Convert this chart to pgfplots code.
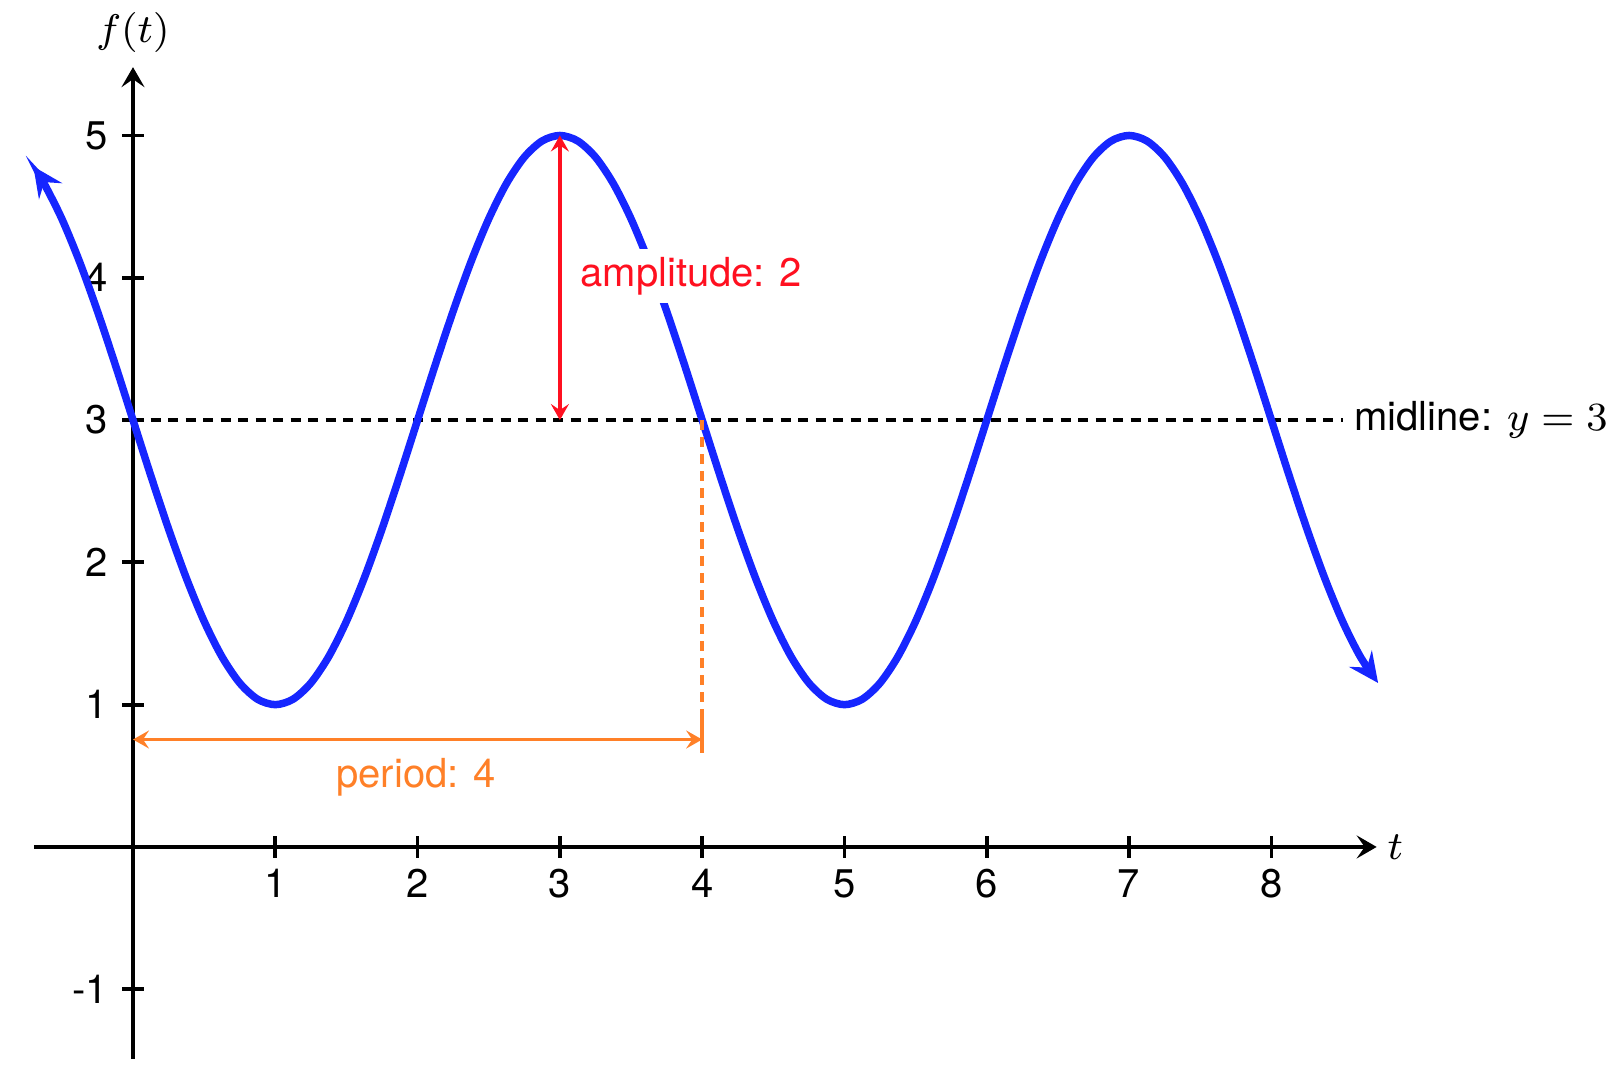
\documentclass[border=0pt]{standalone}
\usepackage{fontspec}
\setmainfont{TeX Gyre Heros}
\usepackage{pgfplots}
\pgfplotsset{compat=1.18}
\usetikzlibrary{arrows.meta}
\definecolor{curveblue}{RGB}{22,38,255}
\definecolor{ampred}{RGB}{255,16,32}
\definecolor{perorange}{RGB}{255,128,40}
\begin{document}
\fontsize{8}{10}\selectfont
\begin{tikzpicture}
\begin{axis}[
  set layers,
  x=1cm, y=1cm,
  anchor=origin, at={(0,0)},
  axis lines=middle,
  xmin=-0.697, xmax=8.74,
  ymin=-1.49, ymax=5.48,
  clip=false,
  xtick={1,2,3,4,5,6,7,8},
  ytick={-1,1,2,3,4,5},
  /pgf/number format/assume math mode=true,
  tick style={black, line width=0.75pt},
  major tick length=4.3pt,
  axis line style={line width=0.8pt, -{Stealth[length=4pt,width=4.6pt,inset=1.6pt]}},
  xlabel={$t$}, ylabel={$f(t)$},
  xlabel style={at={(axis cs:8.74,0)}, anchor=west, inner sep=2pt},
  ylabel style={at={(axis cs:0,5.48)}, anchor=south, rotate=0, inner sep=2.8pt},
  tick label style={font=\fontsize{8}{10}\selectfont},
  xticklabel style={yshift=0.5pt},
  yticklabel style={xshift=0pt},
]
% midline
\addplot[black, line width=0.8pt, dash pattern=on 2pt off 1.5pt] coordinates {(0,3) (8.5,3)}
  node[anchor=west, black, inner sep=2pt, pos=1] {midline: $y=3$};
% curve
\addplot[curveblue, line width=1.5pt, smooth, {Stealth[length=6pt,width=5.6pt,inset=2.2pt]}-{Stealth[length=6pt,width=5.6pt,inset=2.2pt]}] coordinates {
(-0.7,4.7820) (-0.625,4.6629) (-0.5,4.4142) (-0.375,4.1111) (-0.25,3.7654) (-0.125,3.3902)
(0,3) (0.125,2.6098) (0.25,2.2346) (0.375,1.8889) (0.5,1.5858) (0.625,1.3371) (0.75,1.1522) (0.875,1.0384)
(1,1) (1.125,1.0384) (1.25,1.1522) (1.375,1.3371) (1.5,1.5858) (1.625,1.8889) (1.75,2.2346) (1.875,2.6098)
(2,3) (2.125,3.3902) (2.25,3.7654) (2.375,4.1111) (2.5,4.4142) (2.625,4.6629) (2.75,4.8478) (2.875,4.9616)
(3,5) (3.125,4.9616) (3.25,4.8478) (3.375,4.6629) (3.5,4.4142) (3.625,4.1111) (3.75,3.7654) (3.875,3.3902)
(4,3) (4.125,2.6098) (4.25,2.2346) (4.375,1.8889) (4.5,1.5858) (4.625,1.3371) (4.75,1.1522) (4.875,1.0384)
(5,1) (5.125,1.0384) (5.25,1.1522) (5.375,1.3371) (5.5,1.5858) (5.625,1.8889) (5.75,2.2346) (5.875,2.6098)
(6,3) (6.125,3.3902) (6.25,3.7654) (6.375,4.1111) (6.5,4.4142) (6.625,4.6629) (6.75,4.8478) (6.875,4.9616)
(7,5) (7.125,4.9616) (7.25,4.8478) (7.375,4.6629) (7.5,4.4142) (7.625,4.1111) (7.75,3.7654) (7.875,3.3902)
(8,3) (8.125,2.6098) (8.25,2.2346) (8.375,1.8889) (8.5,1.5858) (8.625,1.3371) (8.75,1.1522)
};
% amplitude
\addplot[ampred, line width=0.7pt, {Stealth[length=3.2pt,width=3.6pt,inset=1.2pt]}-{Stealth[length=3.2pt,width=3.6pt,inset=1.2pt]}] coordinates {(3,3) (3,5)};
\node[anchor=west, fill=white, text=ampred, inner sep=1.6pt] at (axis cs:3.08,4.01) {amplitude: 2};
% period
\addplot[perorange, line width=0.8pt, dash pattern=on 1.9pt off 1.5pt] coordinates {(4,3) (4,0.91)};
\addplot[perorange, line width=0.8pt] coordinates {(4,0.91) (4,0.66)};
\addplot[perorange, line width=0.75pt, {Stealth[length=3.2pt,width=3.6pt,inset=1.2pt]}-{Stealth[length=3.2pt,width=3.6pt,inset=1.2pt]}] coordinates {(0,0.755) (4,0.755)};
\node[text=perorange] at (axis cs:1.99,0.49) {period: 4};
\end{axis}
\pgfresetboundingbox
\path[use as bounding box] (-0.9347,-1.609) rectangle (10.450,5.952);
\end{tikzpicture}
\end{document}
